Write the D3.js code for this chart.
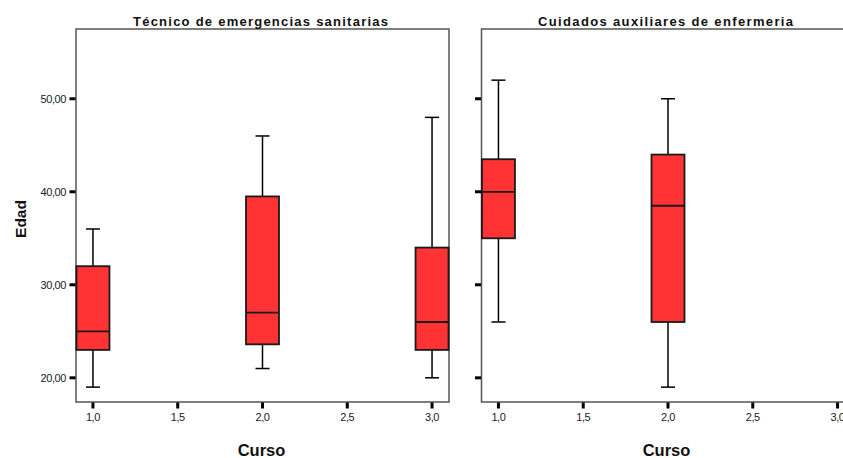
<!DOCTYPE html>
<html>
<head>
<meta charset="utf-8">
<script src="https://cdn.jsdelivr.net/npm/d3@7/dist/d3.min.js"></script>
<style>
  html, body { margin: 0; padding: 0; background: #fff; }
  svg { display: block; font-family: "Liberation Sans", Arial, sans-serif; }
</style>
</head>
<body>
<svg id="chart" width="843" height="458"></svg>
<script>
// ---- data ----
const panelTitles = ["Técnico de emergencias sanitarias", "Cuidados auxiliares de enfermeria"];
const yTicks = [20, 30, 40, 50];
const xTicks = [1.0, 1.5, 2.0, 2.5, 3.0];
// boxes: curso, whisker low, Q1, median, Q3, whisker high
const tesCurso   = [1, 2, 3];
const tesLow     = [19, 21, 20];
const tesQ1      = [23, 23.6, 23];
const tesMedian  = [25, 27, 26];
const tesQ3      = [32, 39.5, 34];
const tesHigh    = [36, 46, 48];

const caeCurso   = [1, 2];
const caeLow     = [26, 19];
const caeQ1      = [35, 26];
const caeMedian  = [40, 38.5];
const caeQ3      = [43.5, 44];
const caeHigh    = [52, 50];

function buildBoxes(c, lo, q1, md, q3, hi) {
  return c.map((v, i) => ({curso: v, low: lo[i], q1: q1[i], median: md[i], q3: q3[i], high: hi[i]}));
}
const panelsData = [
  buildBoxes(tesCurso, tesLow, tesQ1, tesMedian, tesQ3, tesHigh),
  buildBoxes(caeCurso, caeLow, caeQ1, caeMedian, caeQ3, caeHigh)
];

// ---- layout ----
const svg = d3.select("#chart");
const plotTop = 29, plotBottom = 402;
const panelLefts = [76, 481.5];
const panelWidth = 373;
const y = d3.scaleLinear().domain([17.4, 57.5]).range([plotBottom, plotTop]);
const boxHalf = 16.5, capHalf = 7;
const fmtY = v => d3.format(".2f")(v).replace(".", ",");
const fmtX = v => d3.format(".1f")(v).replace(".", ",");

panelsData.forEach((boxes, p) => {
  const x0 = panelLefts[p];
  const x = d3.scaleLinear().domain([0.9, 3.1]).range([x0, x0 + panelWidth]);
  const g = svg.append("g");

  // frame
  g.append("rect")
    .attr("x", x0).attr("y", plotTop)
    .attr("width", panelWidth).attr("height", plotBottom - plotTop)
    .attr("fill", "none").attr("stroke", "#555").attr("stroke-width", 1.5);

  // y ticks
  g.selectAll(".yt").data(yTicks).enter().append("line")
    .attr("x1", x0 - 6.5).attr("x2", x0 - 0.5)
    .attr("y1", d => y(d)).attr("y2", d => y(d))
    .attr("stroke", "#000").attr("stroke-width", 3);
  if (p === 0) {
    g.selectAll(".yl").data(yTicks).enter().append("text")
      .attr("x", x0 - 10).attr("y", d => y(d))
      .attr("dy", "0.35em").attr("text-anchor", "end")
      .attr("font-size", 11).attr("letter-spacing", -0.4)
      .attr("fill", "#222")
      .text(fmtY);
  }

  // x ticks
  g.selectAll(".xt").data(xTicks).enter().append("line")
    .attr("x1", d => x(d)).attr("x2", d => x(d))
    .attr("y1", plotBottom + 0.5).attr("y2", plotBottom + 6.5)
    .attr("stroke", "#000").attr("stroke-width", 3);
  g.selectAll(".xl").data(xTicks).enter().append("text")
    .attr("x", d => x(d)).attr("y", 421)
    .attr("text-anchor", "middle")
    .attr("font-size", 11).attr("letter-spacing", -0.4)
    .attr("fill", "#222")
    .text(fmtX);

  // boxes
  const b = g.selectAll(".box").data(boxes).enter().append("g");
  b.append("line")
    .attr("x1", d => x(d.curso)).attr("x2", d => x(d.curso))
    .attr("y1", d => y(d.high)).attr("y2", d => y(d.q3))
    .attr("stroke", "#000").attr("stroke-width", 1.5);
  b.append("line")
    .attr("x1", d => x(d.curso)).attr("x2", d => x(d.curso))
    .attr("y1", d => y(d.q1)).attr("y2", d => y(d.low))
    .attr("stroke", "#000").attr("stroke-width", 1.5);
  b.append("line")
    .attr("x1", d => x(d.curso) - capHalf).attr("x2", d => x(d.curso) + capHalf)
    .attr("y1", d => y(d.high)).attr("y2", d => y(d.high))
    .attr("stroke", "#000").attr("stroke-width", 1.5);
  b.append("line")
    .attr("x1", d => x(d.curso) - capHalf).attr("x2", d => x(d.curso) + capHalf)
    .attr("y1", d => y(d.low)).attr("y2", d => y(d.low))
    .attr("stroke", "#000").attr("stroke-width", 1.5);
  b.append("rect")
    .attr("x", d => x(d.curso) - boxHalf).attr("width", boxHalf * 2)
    .attr("y", d => y(d.q3)).attr("height", d => y(d.q1) - y(d.q3))
    .attr("fill", "#ff3333").attr("stroke", "#1a1a1a").attr("stroke-width", 1.8);
  b.append("line")
    .attr("x1", d => x(d.curso) - boxHalf).attr("x2", d => x(d.curso) + boxHalf)
    .attr("y1", d => y(d.median)).attr("y2", d => y(d.median))
    .attr("stroke", "#1a1a1a").attr("stroke-width", 1.8);

  // title
  const cx = p === 0 ? 260.5 : 665.5;
  g.append("text")
    .attr("x", cx).attr("y", 25.5)
    .attr("text-anchor", "middle")
    .attr("font-size", 13).attr("font-weight", "bold")
    .attr("fill", "#111")
    .attr("textLength", 255).attr("lengthAdjust", "spacing")
    .text(panelTitles[p]);

  // x axis title
  g.append("text")
    .attr("x", cx + 1).attr("y", 456)
    .attr("text-anchor", "middle")
    .attr("font-size", 16.5).attr("font-weight", "bold")
    .attr("fill", "#111")
    .text("Curso");
});

// y axis title
svg.append("text")
  .attr("transform", "translate(26,219) rotate(-90)")
  .attr("text-anchor", "middle")
  .attr("font-size", 15.5).attr("font-weight", "bold")
  .attr("fill", "#111")
  .text("Edad");
</script>
</body>
</html>
